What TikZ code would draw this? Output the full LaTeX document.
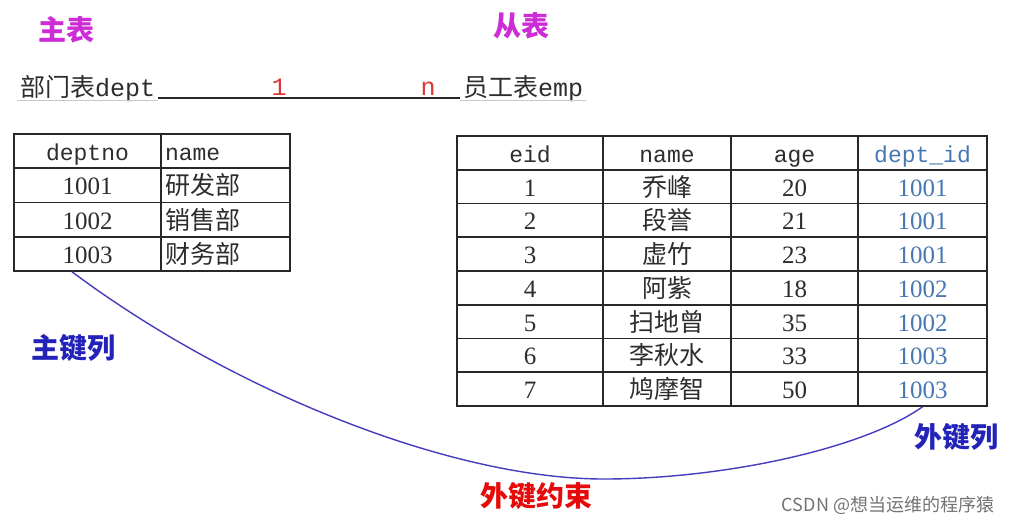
\documentclass[tikz,border=0pt]{standalone}
\usepackage{fontspec}
\setmainfont{Liberation Serif}
\setmonofont{Liberation Mono}
\newfontfamily\cjk{Noto Sans CJK SC}
\definecolor{tline}{RGB}{40,40,40}
\definecolor{ink}{RGB}{45,45,45}
\definecolor{mag}{RGB}{205,45,215}
\definecolor{lblue}{RGB}{35,35,185}
\definecolor{fkred}{RGB}{230,10,10}
\definecolor{relred}{RGB}{220,55,55}
\definecolor{idblue}{RGB}{70,120,180}
\definecolor{curvec}{RGB}{70,60,190}
\definecolor{faint}{RGB}{200,200,200}
\definecolor{wm}{RGB}{115,115,115}
\newcommand\tmono{\fontsize{23}{26}\selectfont\ttfamily}
\newcommand\tnum{\fontsize{25}{28}\selectfont\rmfamily}
\newcommand\tcjk{\fontsize{25}{28}\selectfont\cjk}
\newcommand\tbig{\fontsize{28}{32}\selectfont\cjk\bfseries}
\begin{document}
\begin{tikzpicture}[x=1pt,y=-1pt,
  cell/.style={draw=tline, line width=1.6pt, inner sep=0pt, text=ink, anchor=center,
    text height=19pt, text depth=0pt},
  lcell/.style={cell, minimum height=34.25pt},
  rcell/.style={cell, minimum height=33.75pt},
  leftal/.style={align=left, text width=#1, inner xsep=4pt},
  lab/.style={inner sep=0pt, anchor=center},
  rellab/.style={inner xsep=3pt, inner ysep=0pt, anchor=base west, text=ink},
  relline/.style={draw=tline, line width=1.6pt},
  faintline/.style={draw=faint, line width=0.8pt},
  curve/.style={draw=curvec, line width=1.4pt}]
\useasboundingbox[fill=white] (0,0) rectangle (1019,523);

% titles
\node[lab, text=mag] (zb) at (66,30) {\tbig 主表};
\node[lab, text=mag] (cb) at (521,26) {\tbig 从表};

% relation line
\node[rellab] (dept) at (17,96) {\tcjk 部门表\tmono\fontsize{25}{28}\selectfont dept};
\node[rellab] (emp) at (460,96) {\tcjk 员工表\tmono\fontsize{25}{28}\selectfont emp};
\draw[relline] ([yshift=-2pt]dept.base east) -- ([yshift=-2pt]emp.base west);
\node[lab, anchor=base, text=relred] (one) at (279,95) {\tmono\fontsize{25}{28}\selectfont 1};
\node[lab, anchor=base, text=relred] (many) at (428,95) {\tmono\fontsize{25}{28}\selectfont n};
\draw[faintline] ([yshift=-4pt]dept.base west) -- ([yshift=-4pt]dept.base east);
\draw[faintline] ([yshift=-4pt]emp.base west) -- ([yshift=-4pt]emp.base east);

% left table (dept)
\node[lcell, minimum width=147pt] (ldh) at (87.5,151.1) {\tmono deptno};
\node[lcell, leftal=121pt] (lnh) at (225.5,151.1) {\tmono name};
\foreach \i/\n/\m in {1/1001/研发部, 2/1002/销售部, 3/1003/财务部}{
  \node[lcell, minimum width=147pt] (ld\i) at (87.5,{151.1+34.25*\i}) {\tnum \n};
  \node[lcell, leftal=121pt] (ln\i) at (225.5,{151.1+34.25*\i}) {\tcjk \m};
}

% right table (emp)
\node[rcell, minimum width=146pt] (reh) at (530,152.9) {\tmono eid};
\node[rcell, minimum width=128pt] (rnh) at (667,152.9) {\tmono name};
\node[rcell, minimum width=127pt] (rah) at (794.5,152.9) {\tmono age};
\node[rcell, minimum width=129pt, text=idblue] (rdh) at (922.5,152.9) {\tmono dept\_id};
\foreach \i/\n/\a/\d in {1/乔峰/20/1001, 2/段誉/21/1001, 3/虚竹/23/1001, 4/阿紫/18/1002, 5/扫地曾/35/1002, 6/李秋水/33/1003, 7/鸠摩智/50/1003}{
  \node[rcell, minimum width=146pt] (re\i) at (530,{152.9+33.75*\i}) {\tnum \i};
  \node[rcell, minimum width=128pt] (rn\i) at (667,{152.9+33.75*\i}) {\tcjk \n};
  \node[rcell, minimum width=127pt] (ra\i) at (794.5,{152.9+33.75*\i}) {\tnum \a};
  \node[rcell, minimum width=129pt, text=idblue] (rd\i) at (922.5,{152.9+33.75*\i}) {\tnum \d};
}

% foreign key curve
\coordinate (fkA) at ([xshift=-15.5pt]ld3.south);
\coordinate (fkLow) at (604,479);
\draw[curve] (fkA) .. controls (230,390) and (450,479) .. (fkLow)
  .. controls (720,479) and (861,450) .. (rd7.south);

% labels
\node[lab, text=lblue] (pk) at (73,348) {\tbig 主键列};
\node[lab, text=lblue] (fk) at (956,437) {\tbig 外键列};
\node[lab, text=fkred] (fkc) at (536,496) {\tbig 外键约束};
\node[lab, text=wm] (csdn) at (888,505) {\fontsize{18}{21}\selectfont\cjk CSDN @想当运维的程序猿};
\end{tikzpicture}
\end{document}
